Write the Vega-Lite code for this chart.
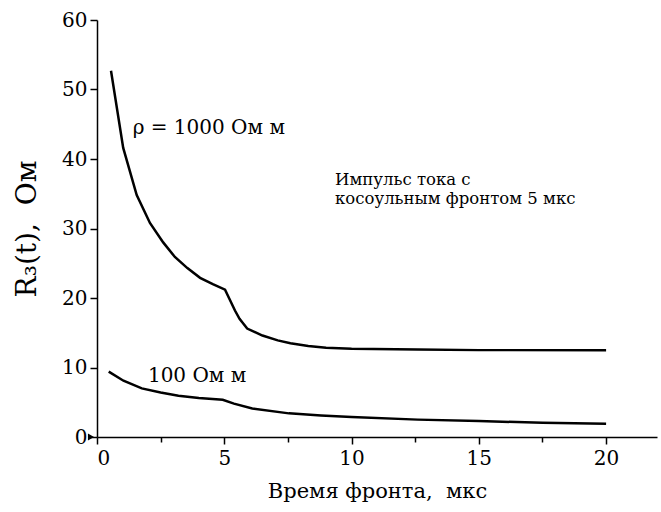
{
  "$schema": "https://vega.github.io/schema/vega-lite/v6.json",
  "width": 560,
  "height": 417,
  "autosize": {"type": "none"},
  "padding": {"left": 97, "top": 20, "right": 4, "bottom": 75},
  "background": "white",
  "config": {
    "view": {"stroke": null},
    "font": "DejaVu Serif",
    "axis": {
      "grid": false,
      "domainColor": "black",
      "domainWidth": 1.5,
      "tickColor": "black",
      "tickWidth": 1.5,
      "labelColor": "black",
      "titleColor": "black",
      "labelFont": "DejaVu Serif",
      "titleFont": "DejaVu Serif",
      "titleFontWeight": "normal",
      "labelFontSize": 20
    }
  },
  "datasets": {
    "curves": [
      {"t": 0.55, "R": 52.7, "rho": "1000"},
      {"t": 1.03, "R": 41.6, "rho": "1000"},
      {"t": 1.56, "R": 34.8, "rho": "1000"},
      {"t": 2.08, "R": 30.8, "rho": "1000"},
      {"t": 2.6, "R": 28.0, "rho": "1000"},
      {"t": 3.06, "R": 25.9, "rho": "1000"},
      {"t": 3.55, "R": 24.3, "rho": "1000"},
      {"t": 4.05, "R": 22.9, "rho": "1000"},
      {"t": 4.55, "R": 22.0, "rho": "1000"},
      {"t": 5.03, "R": 21.2, "rho": "1000"},
      {"t": 5.42, "R": 18.2, "rho": "1000"},
      {"t": 5.6, "R": 17.0, "rho": "1000"},
      {"t": 5.9, "R": 15.6, "rho": "1000"},
      {"t": 6.5, "R": 14.6, "rho": "1000"},
      {"t": 7.1, "R": 13.9, "rho": "1000"},
      {"t": 7.6, "R": 13.5, "rho": "1000"},
      {"t": 8.3, "R": 13.1, "rho": "1000"},
      {"t": 9.0, "R": 12.85, "rho": "1000"},
      {"t": 10.0, "R": 12.7, "rho": "1000"},
      {"t": 12.6, "R": 12.6, "rho": "1000"},
      {"t": 15.0, "R": 12.5, "rho": "1000"},
      {"t": 20.0, "R": 12.5, "rho": "1000"},
      {"t": 0.46, "R": 9.4, "rho": "100"},
      {"t": 1.04, "R": 8.1, "rho": "100"},
      {"t": 1.76, "R": 7.0, "rho": "100"},
      {"t": 2.5, "R": 6.4, "rho": "100"},
      {"t": 3.2, "R": 5.95, "rho": "100"},
      {"t": 4.0, "R": 5.6, "rho": "100"},
      {"t": 4.94, "R": 5.35, "rho": "100"},
      {"t": 5.38, "R": 4.8, "rho": "100"},
      {"t": 6.1, "R": 4.1, "rho": "100"},
      {"t": 7.54, "R": 3.4, "rho": "100"},
      {"t": 8.8, "R": 3.1, "rho": "100"},
      {"t": 10.0, "R": 2.86, "rho": "100"},
      {"t": 12.6, "R": 2.5, "rho": "100"},
      {"t": 15.0, "R": 2.29, "rho": "100"},
      {"t": 17.5, "R": 2.05, "rho": "100"},
      {"t": 20.0, "R": 1.9, "rho": "100"}
    ],
    "notes": [
      {"t": 1.4, "R": 44.5, "label": "ρ = 1000 Ом м", "size": 20},
      {"t": 2.0, "R": 8.8, "label": "100 Ом м", "size": 20},
      {"t": 9.35, "R": 37.0, "label": "Импульс тока с", "size": 16.5},
      {"t": 9.35, "R": 34.3, "label": "косоульным фронтом 5 мкс", "size": 16.5}
    ],
    "origin": [
      {"t": 0, "R": 0}
    ]
  },
  "layer": [
    {
      "data": {"name": "curves"},
      "mark": {"type": "line", "color": "black", "strokeWidth": 2.5},
      "encoding": {
        "x": {
          "field": "t",
          "type": "quantitative",
          "scale": {"domain": [0, 22], "nice": false},
          "axis": {
            "values": [0, 2.5, 5, 7.5, 10, 12.5, 15, 17.5, 20],
            "labelExpr": "datum.value % 5 === 0 ? datum.label : ''",
            "tickSize": {"condition": {"test": "datum.value % 5 === 0", "value": 7}, "value": 5},
            "labelPadding": 4,
            "title": "Время фронта,\u00a0\u00a0мкс",
            "titleFontSize": 21,
            "titlePadding": 12
          }
        },
        "y": {
          "field": "R",
          "type": "quantitative",
          "scale": {"domain": [0, 60], "nice": false},
          "axis": {
            "values": [0, 5, 10, 15, 20, 25, 30, 35, 40, 45, 50, 55, 60],
            "labelExpr": "datum.value % 10 === 0 ? datum.label : ''",
            "tickSize": {"condition": {"test": "datum.value % 10 === 0", "value": 7}, "value": 5},
            "labelPadding": 3,
            "title": "R₃(t),\u00a0\u00a0Ом",
            "titleFontSize": 28,
            "titlePadding": 20
          }
        },
        "detail": {"field": "rho", "type": "nominal"}
      }
    },
    {
      "data": {"name": "origin"},
      "mark": {"type": "point", "shape": "triangle-right", "filled": true, "color": "black", "opacity": 1, "size": 50, "xOffset": -6, "clip": false},
      "encoding": {
        "x": {"field": "t", "type": "quantitative"},
        "y": {"field": "R", "type": "quantitative"}
      }
    },
    {
      "data": {"name": "notes"},
      "mark": {"type": "text", "align": "left", "baseline": "middle", "color": "black", "font": "DejaVu Serif"},
      "encoding": {
        "x": {"field": "t", "type": "quantitative"},
        "y": {"field": "R", "type": "quantitative"},
        "text": {"field": "label"},
        "size": {"field": "size", "type": "quantitative", "scale": null}
      }
    }
  ]
}
